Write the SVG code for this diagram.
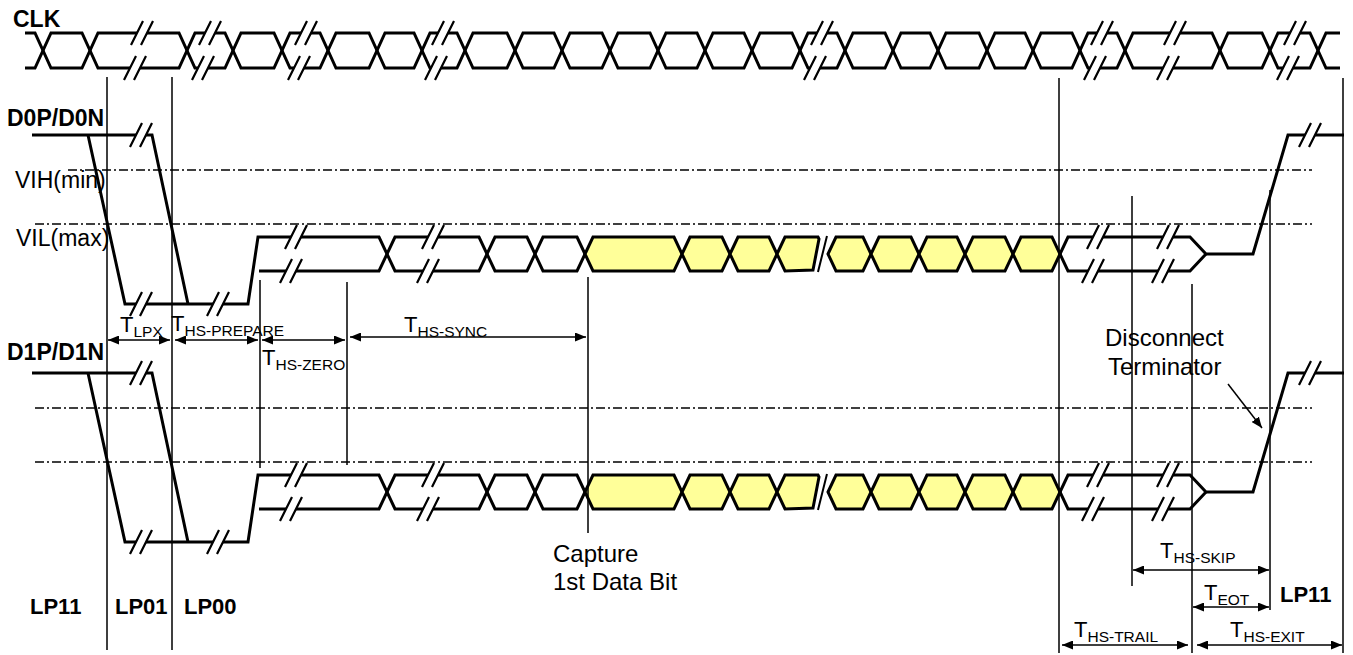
<svg xmlns="http://www.w3.org/2000/svg" xmlns:xlink="http://www.w3.org/1999/xlink" width="1353" height="655" viewBox="0 0 1353 655">
<style>
.w{fill:none;stroke:#000;stroke-width:3}
.y{fill:#FFFF99;stroke:#000;stroke-width:3}
.v{stroke:#000;stroke-width:1.5;fill:none}
.dd{stroke:#000;stroke-width:1.3;stroke-dasharray:9 3 2 3;fill:none}
.arr{stroke:#000;stroke-width:1.5;fill:none;marker-start:url(#ah);marker-end:url(#ah)}
text{font-family:"Liberation Sans",Arial,sans-serif;fill:#000}
.lb{font-size:24px}
.lv{font-size:23px}
.bd{font-size:23px;font-weight:bold}
.lp{font-size:22px;font-weight:bold}
.t{font-size:22px}
.s{font-size:15.5px}
</style>
<defs>
<marker id="ah" markerWidth="11" markerHeight="9" refX="11" refY="4.5" orient="auto-start-reverse" markerUnits="userSpaceOnUse"><path d="M0,0 L11,4.5 L0,9 z" fill="#000"/></marker>
<marker id="ah1" markerWidth="11" markerHeight="9" refX="11" refY="4.5" orient="auto" markerUnits="userSpaceOnUse"><path d="M0,0 L11,4.5 L0,9 z" fill="#000"/></marker>
<g id="brk"><polygon points="1,-12 11,-12 -1,12 -11,12" fill="#fff"/><path d="M1,-12 L-11,12 M11,-12 L-1,12" stroke="#000" stroke-width="2.2"/></g>
</defs>
<rect width="1353" height="655" fill="#fff"/>

<g id="guides">
<path class="dd" d="M68,170 H1312 M35,224 H1312 M35,408 H1312 M35,462 H1312"/>
</g>

<g id="clk">
<path class="w" d="M25,33 H35 L51,68 H82 L98,33 H179 L195,68 H225 L241,33 H274 L290,68 H320 L336,33 H369 L385,68 H414 L430,33 H457 L473,68 H507 L523,33 H554 L570,68 H602 L618,33 H650 L666,68 H697 L713,33 H744 L760,68 H792 L808,33 H837 L853,68 H885 L901,33 H930 L946,68 H979 L995,33 H1025 L1041,68 H1072 L1088,33 H1117 L1133,68 H1212 L1228,33 H1262 L1278,68 H1310 L1326,33 H1340"/>
<path class="w" d="M25,68 H35 L51,33 H82 L98,68 H179 L195,33 H225 L241,68 H274 L290,33 H320 L336,68 H369 L385,33 H414 L430,68 H457 L473,33 H507 L523,68 H554 L570,33 H602 L618,68 H650 L666,33 H697 L713,68 H744 L760,33 H792 L808,68 H837 L853,33 H885 L901,68 H930 L946,33 H979 L995,68 H1025 L1041,33 H1072 L1088,68 H1117 L1133,33 H1212 L1228,68 H1262 L1278,33 H1310 L1326,68 H1340"/>
<use xlink:href="#brk" x="142" y="33"/><use xlink:href="#brk" x="135" y="68"/>
<use xlink:href="#brk" x="210" y="33"/><use xlink:href="#brk" x="203" y="68"/>
<use xlink:href="#brk" x="306" y="33"/><use xlink:href="#brk" x="299" y="68"/>
<use xlink:href="#brk" x="443" y="33"/><use xlink:href="#brk" x="436" y="68"/>
<use xlink:href="#brk" x="822" y="33"/><use xlink:href="#brk" x="815" y="68"/>
<use xlink:href="#brk" x="1102" y="33"/><use xlink:href="#brk" x="1095" y="68"/>
<use xlink:href="#brk" x="1175" y="33"/><use xlink:href="#brk" x="1168" y="68"/>
<use xlink:href="#brk" x="1295" y="33"/><use xlink:href="#brk" x="1288" y="68"/>
</g>

<g id="d0-lane">
<g id="d0-wave">
<path class="w" d="M32,135 H152 L188,304"/>
<path class="w" d="M88,135 L125,304 H248 L258,237 H379 L395,271 H479 L495,237 H527 L543,271 H577 L585,254"/>
<path class="w" d="M259,271 H379 L395,237 H479 L495,271 H527 L543,237 H577 L585,254"/>
<polygon class="y" points="585,254 593,237 674,237 682,254 674,271 593,271"/>
<polygon class="y" points="682,254 690,237 722,237 730,254 722,271 690,271"/>
<polygon class="y" points="730,254 738,237 769,237 777,254 769,271 738,271"/>
<polygon class="y" points="777,254 785,237 818,237 819,239 813,270 785,271"/>
<path d="M827,236 L818,272" stroke="#000" stroke-width="2" fill="none"/>
<polygon class="y" points="828,254 836,237 863,237 871,254 863,271 836,271"/>
<polygon class="y" points="871,254 879,237 911,237 919,254 911,271 879,271"/>
<polygon class="y" points="919,254 927,237 957,237 965,254 957,271 927,271"/>
<polygon class="y" points="965,254 973,237 1005,237 1013,254 1005,271 973,271"/>
<polygon class="y" points="1013,254 1021,237 1052,237 1060,254 1052,271 1021,271"/>
<path class="w" d="M1060,254 L1068,237 H1190 L1206,254 H1253 L1288,135 H1344"/>
<path class="w" d="M1060,254 L1068,271 H1190 L1206,254"/>
<use xlink:href="#brk" x="141" y="135"/>
<use xlink:href="#brk" x="141" y="304"/><use xlink:href="#brk" x="218" y="304"/>
<use xlink:href="#brk" x="296" y="237"/><use xlink:href="#brk" x="291" y="271"/>
<use xlink:href="#brk" x="433" y="237"/><use xlink:href="#brk" x="428" y="271"/>
<use xlink:href="#brk" x="1098" y="237"/><use xlink:href="#brk" x="1093" y="271"/>
<use xlink:href="#brk" x="1168" y="237"/><use xlink:href="#brk" x="1163" y="271"/>
<use xlink:href="#brk" x="1310" y="135"/>
</g>
</g>

<g id="d1-lane">
<use xlink:href="#d0-wave" x="0" y="238"/>
</g>

<g id="connectors">
<path class="v" d="M107,77 V650 M172,77 V650 M260,280 V468 M347,282 V465 M588,277 V533 M1059,78 V653 M1132,196 V586 M1192,284 V653 M1270,190 V610 M1343,78 V653"/>
<path class="arr" d="M108,340 H170"/>
<path class="arr" d="M175,340 H258"/>
<path class="arr" d="M262,340 H345"/>
<path class="arr" d="M350,337 H586"/>
<path class="arr" d="M1133,570 H1269"/>
<path class="arr" d="M1193,607 H1269"/>
<path class="arr" d="M1062,645 H1188"/>
<path class="arr" d="M1197,645 H1342"/>
<path class="v" d="M1228,384 L1262,428" marker-end="url(#ah1)"/>
</g>

<g id="labels">
<text class="bd" x="13" y="27">CLK</text>
<text class="bd" x="7" y="126">D0P/D0N</text>
<text class="lv" x="15" y="188">VIH(min)</text>
<text class="lv" x="16" y="246">VIL(max)</text>
<text class="bd" x="7" y="360">D1P/D1N</text>
<text class="t" x="120" y="332">T<tspan class="s" dy="5">LPX</tspan></text>
<text class="t" x="171" y="331">T<tspan class="s" dy="5">HS-PREPARE</tspan></text>
<text class="t" x="262" y="365">T<tspan class="s" dy="5">HS-ZERO</tspan></text>
<text class="t" x="404" y="332">T<tspan class="s" dy="5">HS-SYNC</tspan></text>
<text class="lb" x="1105" y="346">Disconnect</text>
<text class="lb" x="1108" y="375">Terminator</text>
<text class="lb" x="553" y="562">Capture</text>
<text class="lb" x="553" y="590">1st Data Bit</text>
<text class="lp" x="30" y="614">LP11</text>
<text class="lp" x="115" y="614">LP01</text>
<text class="lp" x="184" y="614">LP00</text>
<text class="lp" x="1280" y="602">LP11</text>
<text class="t" x="1160" y="558">T<tspan class="s" dy="5">HS-SKIP</tspan></text>
<text class="t" x="1204" y="600">T<tspan class="s" dy="5">EOT</tspan></text>
<text class="t" x="1074" y="637">T<tspan class="s" dy="5">HS-TRAIL</tspan></text>
<text class="t" x="1230" y="637">T<tspan class="s" dy="5">HS-EXIT</tspan></text>
</g>
</svg>
